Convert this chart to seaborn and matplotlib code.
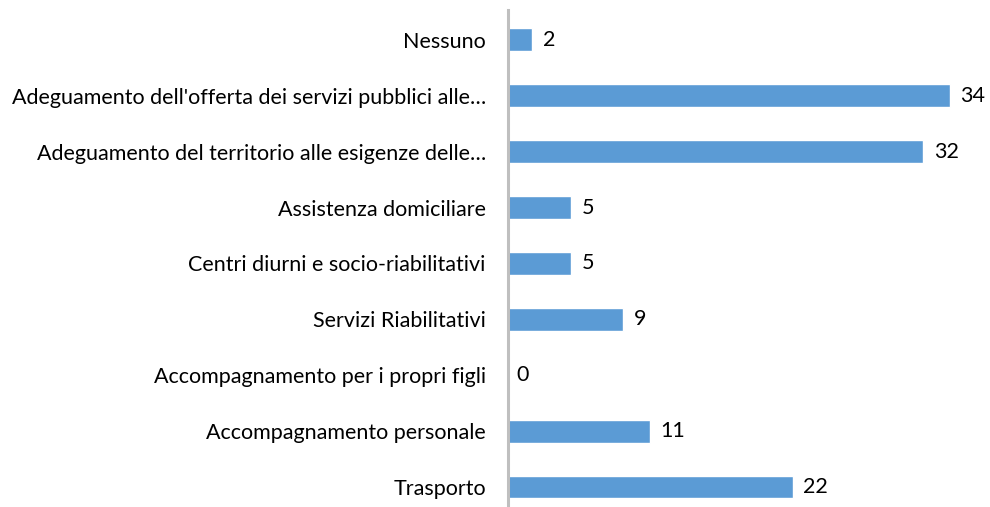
import matplotlib
matplotlib.use("Agg")
import matplotlib.pyplot as plt
import seaborn as sns
import pandas as pd

categories = [
    "Nessuno",
    "Adeguamento dell'offerta dei servizi pubblici alle\u2026",
    "Adeguamento del territorio alle esigenze delle\u2026",
    "Assistenza domiciliare",
    "Centri diurni e socio-riabilitativi",
    "Servizi Riabilitativi",
    "Accompagnamento per i propri figli",
    "Accompagnamento personale",
    "Trasporto",
]
values = [2, 34, 32, 5, 5, 9, 0, 11, 22]

df = pd.DataFrame({"cat": categories, "val": values})

sns.set_style("white")
plt.rcParams["font.family"] = ["Lato", "DejaVu Sans"]

fig = plt.figure(figsize=(9.9, 5.07), dpi=100)
ax = fig.add_axes([508 / 990, 0.0, 1 - 508 / 990, (507 - 10) / 507])

sns.barplot(data=df, x="val", y="cat", color="#5B9BD5", width=0.41,
            saturation=1, ax=ax)

for i, v in enumerate(values):
    ax.text(v + 0.8, i, str(v), va="center", ha="left", fontsize=15.5, color="black")

ax.set_xlim(0.15, 37.1)
ax.set_ylim(8 + 20 / 56, -30 / 56)
ax.set_xlabel("")
ax.set_ylabel("")
ax.set_xticks([])
ax.tick_params(axis="y", length=0, pad=16, labelsize=15.5, labelcolor="black")

for side in ["top", "right", "bottom"]:
    ax.spines[side].set_visible(False)
ax.spines["left"].set_color("#BFBFBF")
ax.spines["left"].set_linewidth(2.2)

fig.savefig("out.png", dpi=100)
